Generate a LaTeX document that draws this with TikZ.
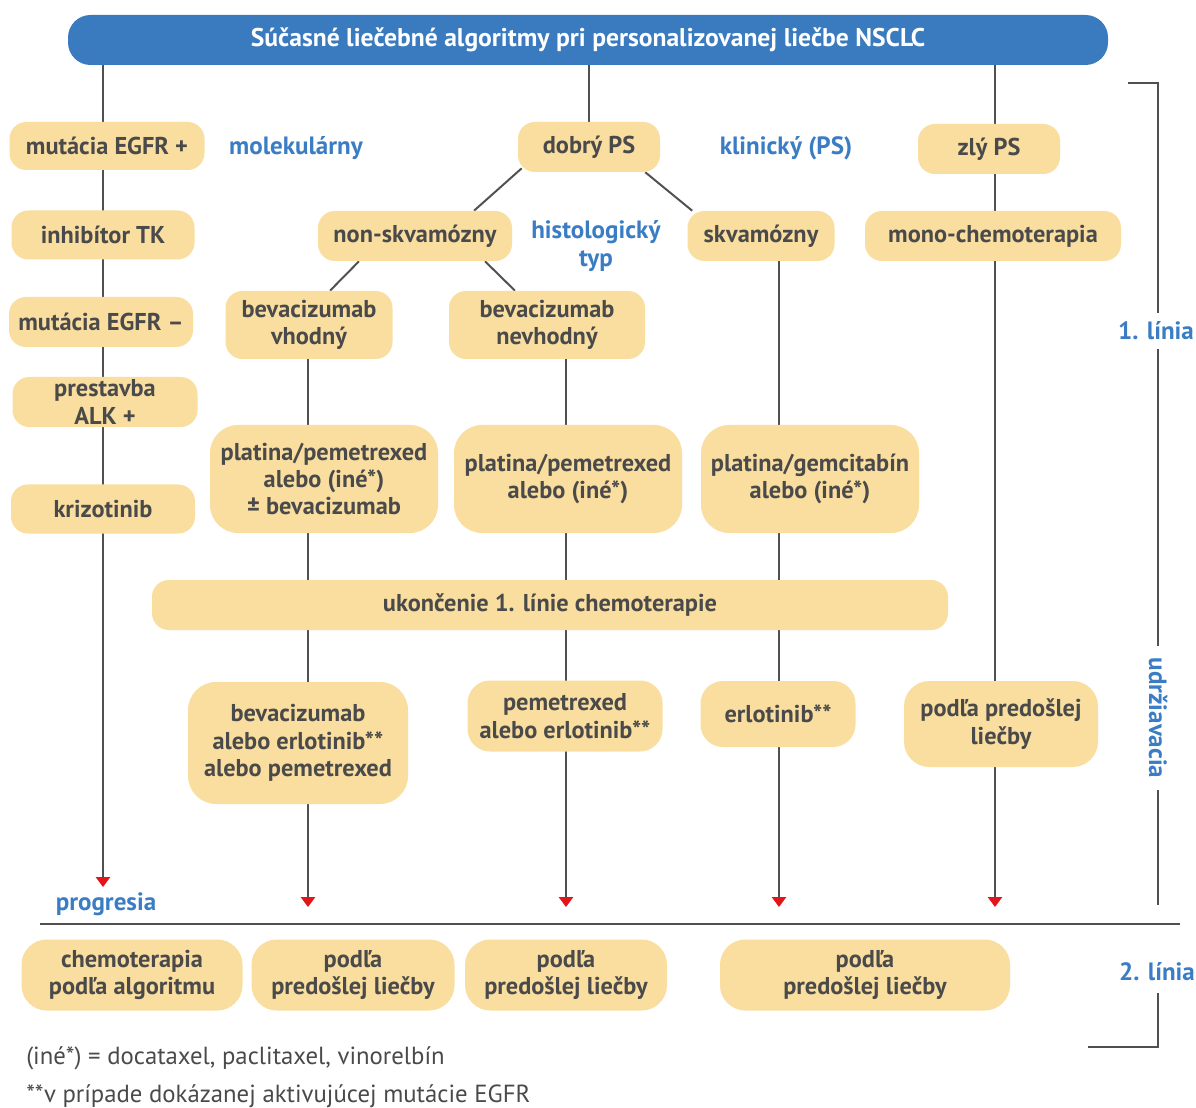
\documentclass[tikz,border=0pt]{standalone}
\usepackage{fontspec}
\setmainfont{PT Sans}
\usetikzlibrary{arrows.meta,calc,backgrounds}
\definecolor{AlgBlue}{HTML}{3A7BBF}
\definecolor{AlgTag}{HTML}{3B7DC4}
\definecolor{AlgSand}{HTML}{F9DE9F}
\definecolor{AlgText}{HTML}{4A4A4A}
\definecolor{AlgLine}{HTML}{505050}
\definecolor{AlgRed}{HTML}{E3151A}

\begin{document}
\begin{tikzpicture}[
    x=0.025cm, y=-0.025cm,
    pill/.style={
      fill=AlgSand,
      rounded corners=12pt,
      text=AlgText,
      font=\bfseries\fontsize{17.3}{19.5}\selectfont,
      align=center,
      inner sep=2pt
    },
    sz/.style 2 args={
      minimum width=#1*0.025cm,
      minimum height=#2*0.025cm
    },
    tag/.style={
      text=AlgTag,
      font=\bfseries\fontsize{17.8}{19.5}\selectfont,
      align=center,
      inner sep=2pt
    },
    link/.style={
      draw=AlgLine,
      line width=1.4pt
    },
    arr/.style={
      link,
      -{Triangle[color=AlgRed, length=7pt, width=10pt]}
    },
    note/.style={
      text=AlgText,
      font=\fontsize{17.6}{20}\selectfont,
      anchor=west,
      inner sep=0pt
    }
  ]

  \useasboundingbox (0,0) rectangle (1196,1108);
  \begin{scope}[on background layer]
    \fill[white] (0,0) rectangle (1196,1108);
  \end{scope}

  % Title
  \node[pill, fill=AlgBlue, text=white, sz={1040}{50}, rounded corners=16pt,
        font=\bfseries\fontsize{18.2}{20}\selectfont] (tt) at (588,40)
    {Súčasné liečebné algoritmy pri personalizovanej liečbe NSCLC};

  % Molecular column
  \node[pill, sz={195}{48}] (egfrp) at (107,146) {mutácia EGFR +};
  \node[pill, sz={183}{49}] (tki)   at (103,235) {inhibítor TK};
  \node[pill, sz={184}{50}] (egfrm) at (101,322) {mutácia EGFR –};
  \node[pill, sz={185}{50}] (alk)   at (105,402) {prestavba\\ALK +};
  \node[pill, sz={184}{49}] (kriz)  at (103,509) {krizotinib};

  % Clinical branch
  \node[pill, sz={142}{50}] (dobry) at (589,147) {dobrý PS};
  \node[pill, sz={142}{50}] (zly)   at (989,149) {zlý PS};
  \node[pill, sz={194}{50}] (nonsq) at (415,236) {non-skvamózny};
  \node[pill, sz={147}{50}] (sq)    at (761,236) {skvamózny};
  \node[pill, sz={256}{50}] (mono)  at (993,236) {mono-chemoterapia};
  \node[pill, sz={167}{68}] (bvh)   at (309,325) {bevacizumab\\vhodný};
  \node[pill, sz={196}{68}] (bvn)   at (547,325) {bevacizumab\\nevhodný};

  % First-line regimens
  \node[pill, sz={228}{108}, rounded corners=20pt] (pp1) at (324,479)
    {platina/pemetrexed\\alebo (iné*)\\± bevacizumab};
  \node[pill, sz={228}{108}, rounded corners=20pt] (pp2) at (568,479)
    {platina/pemetrexed\\alebo (iné*)};
  \node[pill, sz={218}{108}, rounded corners=20pt] (pg)  at (810,479)
    {platina/gemcitabín\\alebo (iné*)};
  \node[pill, sz={796}{50}] (endc) at (550,605) {ukončenie 1. línie chemoterapie};

  % Maintenance
  \node[pill, sz={220}{122}, rounded corners=20pt] (mt1) at (298,743)
    {bevacizumab\\alebo erlotinib**\\alebo pemetrexed};
  \node[pill, sz={195}{71}, rounded corners=16pt] (mt2) at (565,716)
    {pemetrexed\\alebo erlotinib**};
  \node[pill, sz={155}{66}, rounded corners=16pt] (mt3) at (778,714) {erlotinib**};
  \node[pill, sz={194}{86}, rounded corners=18pt] (mt4) at (1001,724)
    {podľa predošlej\\liečby};

  % Second line
  \node[pill, sz={221}{71}, rounded corners=18pt] (sl1) at (132,975)
    {chemoterapia\\podľa algoritmu};
  \node[pill, sz={203}{71}, rounded corners=18pt] (sl2) at (353,975)
    {podľa\\predošlej liečby};
  \node[pill, sz={202}{71}, rounded corners=18pt] (sl3) at (566,975)
    {podľa\\predošlej liečby};
  \node[pill, sz={290}{71}, rounded corners=18pt] (sl4) at (865,975)
    {podľa\\predošlej liečby};

  % Blue labels
  \node[tag] (molek) at (296,148) {molekulárny};
  \node[tag] (klin)  at (786,148) {klinický (PS)};
  \node[tag] (hist)  at (596,246) {histologický\\typ};
  \node[tag] (prog)  at (106,904) {progresia};
  \node[tag, inner sep=6pt] (l1) at (1156,331) {1. línia};
  \node[tag, inner sep=8pt, rotate=-90] (ud) at (1158,718) {udržiavacia};
  \node[tag, inner sep=8pt] (l2) at (1157,972) {2. línia};

  % Arrow ends
  \coordinate (p1) at (103,887);
  \coordinate (p2) at (308,907);
  \coordinate (p3) at (566,907);
  \coordinate (p4) at (779,907);
  \coordinate (p5) at (995,907);

  \begin{scope}[on background layer]
    \draw[arr] (tt.south -| p1) -- (p1);
    \draw[arr] (tt.south -| p5) -- (p5);
    \draw[arr] (bvh.south -| p2) -- (p2);
    \draw[arr] (bvn.south -| p3) -- (p3);
    \draw[arr] (sq.south -| p4) -- (p4);
    \draw[link] (tt.south -| dobry.north) -- (dobry.north);
    \draw[link] ($(dobry.south west)+(4,-4)$) -- ($(nonsq.north)+(59,0)$);
    \draw[link] ($(dobry.south east)+(-15,0)$) -- ($(sq.north west)+(5,0)$);
    \draw[link] ($(nonsq.south)+(-56,0)$) -- ($(bvh.north)+(21,0)$);
    \draw[link] ($(nonsq.south)+(70,0)$) -- ($(bvn.north)+(-32,0)$);
  \end{scope}

  % Line separators
  \coordinate (d1) at (40,924);
  \coordinate (d2) at (1180,924);
  \draw[link] (d1) -- (d2);
  \draw[link] (1128,83) -- (1158,83) -- (l1.north -| 1158,0);
  \draw[link] (l1.south -| 1158,0) -- (ud.west);
  \draw[link] (ud.east) -- (1158,905);
  \draw[link] (l2.south -| 1158,0) -- (1158,1047) -- (1088,1047);

  % Footnotes
  \node[note] (fn1) at (26,1058) {(iné*) = docataxel, paclitaxel, vinorelbín};
  \node[note] (fn2) at (26,1096) {**v prípade dokázanej aktivujúcej mutácie EGFR};

\end{tikzpicture}
\end{document}
